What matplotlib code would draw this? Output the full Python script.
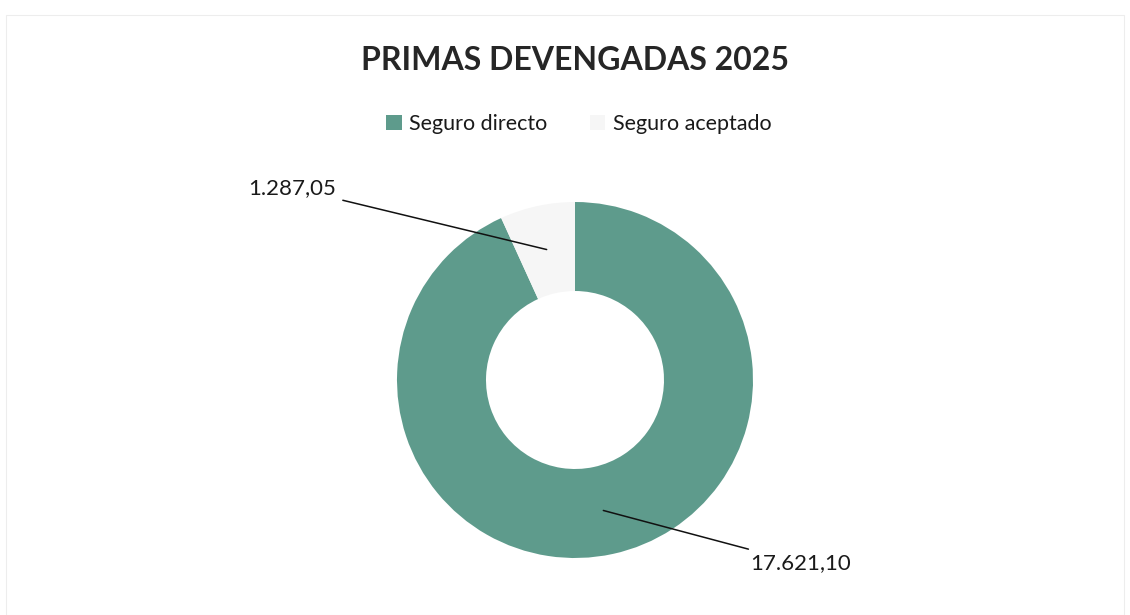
import numpy as np
import matplotlib.pyplot as plt
from matplotlib.patches import Rectangle

plt.rcParams['font.family'] = ['Lato', 'DejaVu Sans']

# Datos
categorias = ["Seguro directo", "Seguro aceptado"]
valores = [17621.10, 1287.05]
etiquetas = ["17.621,10", "1.287,05"]
colores = ["#5e9b8c", "#f6f6f6"]

W, H = 1130, 615
fig = plt.figure(figsize=(W / 100, H / 100), dpi=100)

# marco suave del área del gráfico
fig.patches.append(Rectangle((6 / W, 0), (W - 12) / W, (H - 15) / H, transform=fig.transFigure,
                             fill=False, edgecolor="#ededed", linewidth=0.8))

# donut: centro (575, 380) px, radio 178 px
cx, cy, r = 575, 380, 178
ax = fig.add_axes([(cx - r) / W, (H - cy - r) / H, 2 * r / W, 2 * r / H])
wedges, _ = ax.pie(valores, colors=colores, startangle=90, counterclock=False,
                   radius=1, wedgeprops=dict(width=0.5, edgecolor="none"))
ax.set_xlim(-1, 1)
ax.set_ylim(-1, 1)
ax.set_aspect("equal")
ax.axis("off")

# etiquetas con líneas guía
pos_texto = {0: ((750 - cx) / r, (cy - 563) / r, "left"),
             1: ((336 - cx) / r, (cy - 188) / r, "right")}
for i, w in enumerate(wedges):
    ang = np.deg2rad((w.theta1 + w.theta2) / 2)
    px, py = 0.75 * np.cos(ang), 0.75 * np.sin(ang)
    tx, ty, ha = pos_texto[i]
    ax.annotate(etiquetas[i], xy=(px, py), xytext=(tx, ty), ha=ha, va="center",
                fontsize=16, color="#1a1a1a", annotation_clip=False,
                arrowprops=dict(arrowstyle="-", color="#111111", lw=1.1,
                                shrinkA=3, shrinkB=0))

fig.text(575 / W, 1 - 60 / H, "PRIMAS DEVENGADAS 2025", ha="center", va="center",
         fontsize=23, fontweight="bold", color="#262626")

fig.legend(wedges, categorias, loc="center", bbox_to_anchor=(579 / W, 1 - 124 / H),
           ncol=2, frameon=False, fontsize=15.5, handlelength=0.7, handleheight=0.7,
           handletextpad=0.35, columnspacing=2.0, labelcolor="#1a1a1a")

fig.savefig("out.png", dpi=100, facecolor="white")
